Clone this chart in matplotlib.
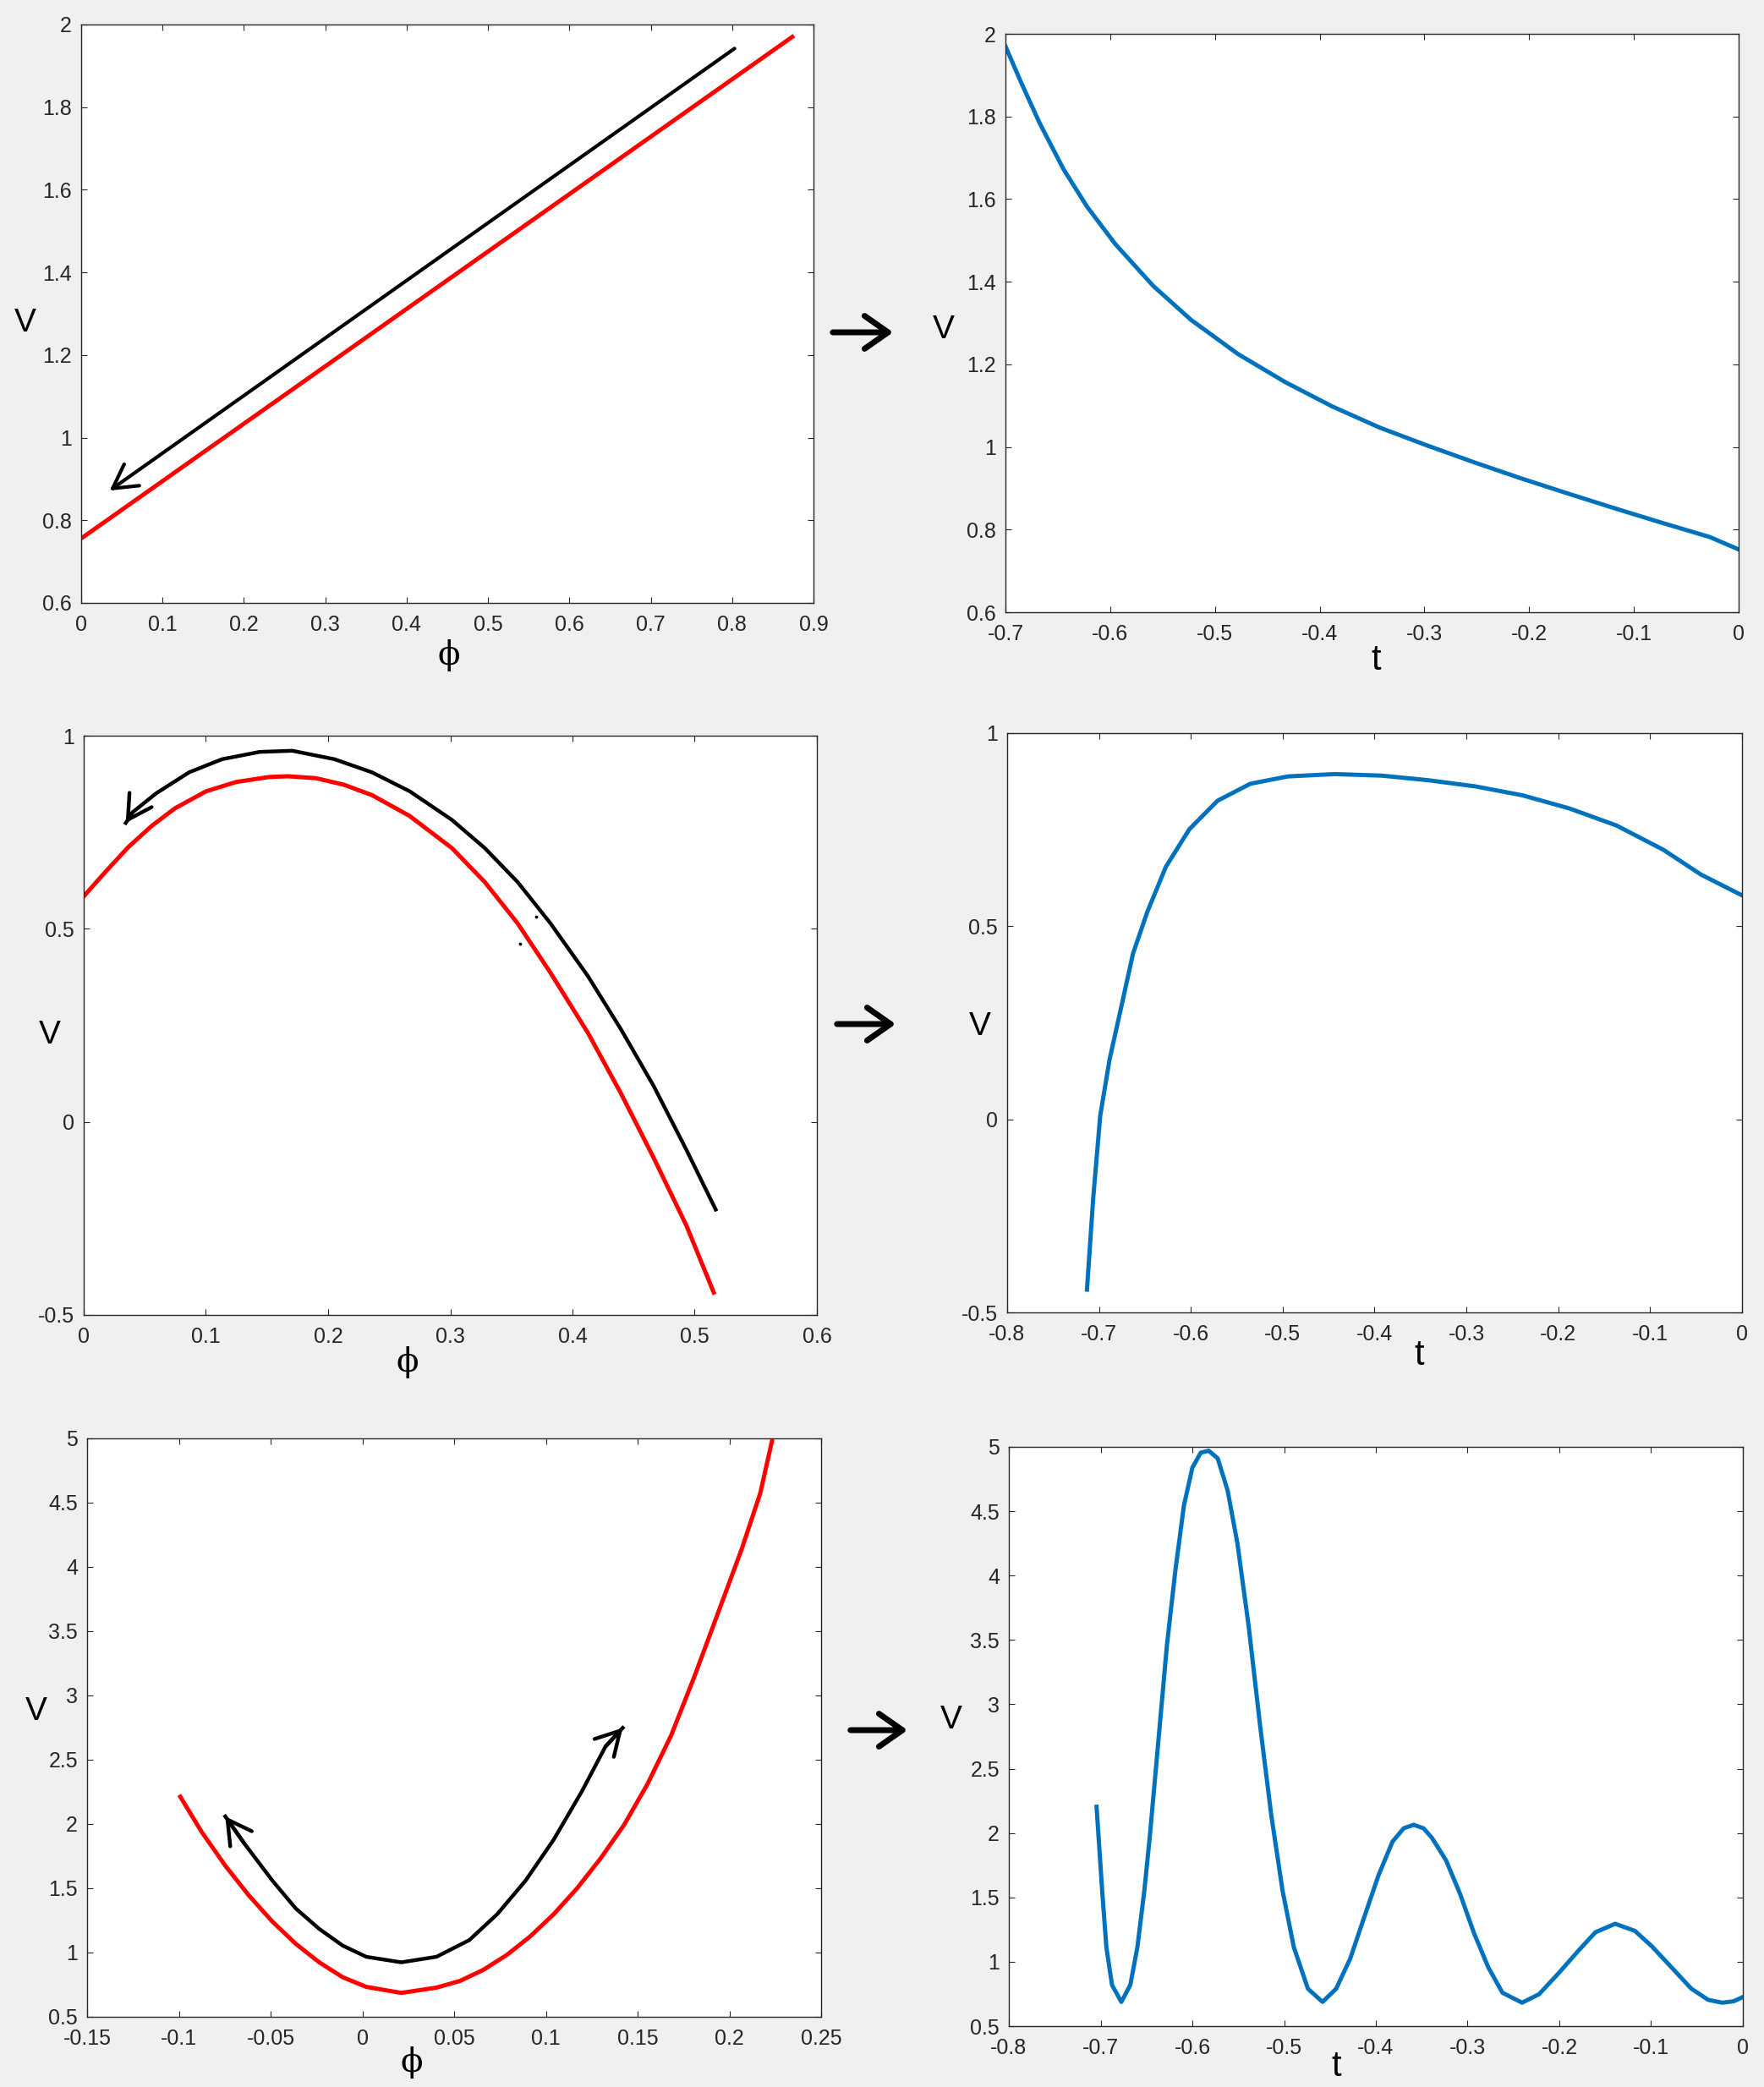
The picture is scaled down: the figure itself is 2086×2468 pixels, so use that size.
import numpy as np
import matplotlib
matplotlib.use("Agg")
import matplotlib.pyplot as plt
from matplotlib.patches import FancyArrowPatch
from matplotlib.ticker import FuncFormatter

plt.rcParams["font.family"] = ["Liberation Sans", "DejaVu Sans"]

W, H = 2086, 2468
RED = "#FF0000"
BLUE = "#0072BD"

# ---- panel 1 : V(phi), linear ----
p1_phi = [0.0, 0.876]
p1_V = [0.756, 1.973]
p1_arrow_phi = [0.803, 0.035]
p1_arrow_V = [1.942, 0.872]

# ---- panel 2 : V(t) ----
p2_t = [-0.7, -0.6852, -0.6672, -0.6447, -0.6222, -0.5951, -0.559, -0.523,
        -0.478, -0.4329, -0.3879, -0.3428, -0.2978, -0.2527, -0.2077,
        -0.1626, -0.1176, -0.0726, -0.0275, 0.0]
p2_V = [1.970, 1.883, 1.783, 1.673, 1.582, 1.491, 1.390, 1.308,
        1.225, 1.157, 1.098, 1.047, 1.004, 0.963, 0.924,
        0.887, 0.851, 0.816, 0.782, 0.752]

# ---- panel 3 : V(phi), hump ----
p3_phi = [0.0, 0.0171, 0.0363, 0.0555, 0.0747, 0.1001, 0.1246, 0.1516, 0.1669,
          0.19, 0.213, 0.236, 0.2668, 0.3013, 0.3282, 0.3551, 0.382, 0.4127,
          0.4396, 0.4664, 0.4933, 0.5156]
p3_V = [0.584, 0.645, 0.711, 0.766, 0.812, 0.856, 0.880, 0.893, 0.895,
        0.890, 0.873, 0.846, 0.792, 0.709, 0.621, 0.514, 0.386, 0.230,
        0.074, -0.093, -0.269, -0.442]
p3_arrow_phi = [0.5172, 0.4933, 0.4664, 0.4396, 0.4127, 0.382, 0.3551, 0.3282,
                0.3013, 0.2668, 0.236, 0.2053, 0.1707, 0.1439, 0.1131, 0.0862,
                0.0594, 0.0401, 0.0344]
p3_arrow_V = [-0.227, -0.073, 0.093, 0.240, 0.377, 0.514, 0.621, 0.709,
              0.782, 0.856, 0.905, 0.939, 0.961, 0.958, 0.939, 0.905,
              0.851, 0.802, 0.774]
p3_dots_phi = [0.3704, 0.3574]
p3_dots_V = [0.531, 0.461]

# ---- panel 4 : V(t) ----
p4_t = [-0.7131, -0.7064, -0.6987, -0.6885, -0.6757, -0.663, -0.6476, -0.6272,
        -0.6017, -0.571, -0.5352, -0.4944, -0.4433, -0.3922, -0.3412, -0.29,
        -0.239, -0.1878, -0.1368, -0.0856, -0.0448, 0.0]
p4_V = [-0.441, -0.207, 0.009, 0.155, 0.292, 0.429, 0.536, 0.654,
        0.751, 0.825, 0.869, 0.888, 0.894, 0.890, 0.878, 0.862,
        0.839, 0.805, 0.761, 0.698, 0.634, 0.580]

# ---- panel 5 : V(phi), well ----
p5_phi = [-0.0992, -0.0875, -0.0747, -0.0619, -0.0491, -0.0363, -0.0235,
          -0.0107, 0.0021, 0.0212, 0.0404, 0.0532, 0.066, 0.0788, 0.0916,
          0.1044, 0.1172, 0.1299, 0.1427, 0.1555, 0.1683, 0.1811, 0.1939,
          0.2067, 0.2168, 0.2232]
p5_V = [2.212, 1.937, 1.676, 1.445, 1.242, 1.068, 0.924,
        0.808, 0.733, 0.686, 0.727, 0.779, 0.866, 0.982, 1.127,
        1.300, 1.503, 1.734, 1.995, 2.314, 2.690, 3.153, 3.645,
        4.138, 4.572, 4.978]
p5_arrow_phi = [-0.0747, -0.0644, -0.0491, -0.0363, -0.0235, -0.0107, 0.0021,
                0.0212, 0.0404, 0.0583, 0.0736, 0.089, 0.1043, 0.1197, 0.1325,
                0.1419]
p5_arrow_V = [2.059, 1.850, 1.561, 1.343, 1.184, 1.054, 0.967,
              0.924, 0.967, 1.097, 1.300, 1.561, 1.879, 2.256, 2.603,
              2.748]

# ---- panel 6 : V(t), oscillation ----
p6_t = [-0.7044, -0.6983, -0.6937, -0.6876, -0.6774, -0.6676, -0.6599, -0.6523,
        -0.6461, -0.6369, -0.6277, -0.6184, -0.6092, -0.6, -0.5908, -0.5822,
        -0.5724, -0.5616, -0.5509, -0.5386, -0.5263, -0.514, -0.5017, -0.4894,
        -0.474, -0.4581, -0.4433, -0.4279, -0.4126, -0.3972, -0.3818, -0.3696,
        -0.3588, -0.3481, -0.3389, -0.3235, -0.3081, -0.2928, -0.2774, -0.262,
        -0.2406, -0.2221, -0.2007, -0.1791, -0.1607, -0.1392, -0.1177, -0.0992,
        -0.0777, -0.0562, -0.0378, -0.0224, -0.0101, 0.0]
p6_V = [2.204, 1.553, 1.113, 0.820, 0.688, 0.820, 1.113, 1.553,
        1.993, 2.726, 3.460, 4.046, 4.544, 4.838, 4.955, 4.970,
        4.911, 4.662, 4.251, 3.606, 2.843, 2.140, 1.553, 1.113,
        0.790, 0.688, 0.790, 1.025, 1.348, 1.670, 1.934, 2.037,
        2.064, 2.037, 1.963, 1.788, 1.525, 1.218, 0.956, 0.759,
        0.682, 0.748, 0.912, 1.087, 1.229, 1.295, 1.240, 1.120,
        0.956, 0.791, 0.704, 0.682, 0.693, 0.726]


def box(l, t, r, b):
    return [l / W, 1 - b / H, (r - l) / W, (b - t) / H]


def fmt(v, pos):
    if abs(v) < 1e-9:
        return "0"
    return "%g" % round(v, 4)


def style_ax(ax, xlim, ylim, xticks, yticks):
    ax.set_xlim(xlim)
    ax.set_ylim(ylim)
    ax.set_xticks(xticks)
    ax.set_yticks(yticks)
    ax.xaxis.set_major_formatter(FuncFormatter(fmt))
    ax.yaxis.set_major_formatter(FuncFormatter(fmt))
    ax.tick_params(direction="in", top=True, right=True, length=5, width=0.8,
                   labelsize=18, labelcolor="#262626", color="#262626")
    ax.tick_params(axis="x", pad=10)
    ax.tick_params(axis="y", pad=8)
    for s in ax.spines.values():
        s.set_linewidth(1.0)
        s.set_color("#262626")
    ax.set_facecolor("white")


def labels(ax, xl, xpos, ypos):
    if xl == "t":
        ax.text(xpos[0], xpos[1], "t", transform=ax.transAxes, fontsize=30,
                ha="center", va="center")
    else:
        ax.text(xpos[0], xpos[1], "\u03d5", transform=ax.transAxes, fontsize=28,
                ha="center", va="center", family="DejaVu Serif")
    ax.text(ypos[0], ypos[1], "V", transform=ax.transAxes, fontsize=28,
            ha="center", va="center")


ARROW = "->,head_length=0.5,head_width=0.28"


def head(ax, xs, ys):
    # open arrow head at the last point of a hand-drawn path
    ax.annotate("", xy=(xs[-1], ys[-1]), xytext=(xs[-2], ys[-2]),
                arrowprops=dict(arrowstyle=ARROW, lw=3.2, color="black",
                                mutation_scale=40, shrinkA=0, shrinkB=0))


fig = plt.figure(figsize=(W / 100, H / 100), dpi=100, facecolor="#f0f0f0")

ax1 = fig.add_axes(box(96, 29, 962, 713))
ax2 = fig.add_axes(box(1189, 40, 2056, 724))
ax3 = fig.add_axes(box(99, 870, 966, 1555))
ax4 = fig.add_axes(box(1191, 867, 2060, 1552))
ax5 = fig.add_axes(box(103, 1701, 971, 2385))
ax6 = fig.add_axes(box(1193, 1711, 2061, 2396))

# panel 1
style_ax(ax1, (0, 0.9), (0.6, 2), np.arange(0, 0.91, 0.1), np.arange(0.6, 2.01, 0.2))
ax1.plot(p1_phi, p1_V, color=RED, lw=3.6, solid_capstyle="butt")
ax1.annotate("", xy=(p1_arrow_phi[1], p1_arrow_V[1]), xytext=(p1_arrow_phi[0], p1_arrow_V[0]),
             arrowprops=dict(arrowstyle=ARROW, lw=3, color="black",
                             mutation_scale=40, shrinkA=0, shrinkB=0))
labels(ax1, "phi", (0.502, -0.091), (-0.076, 0.484))

# panel 2
style_ax(ax2, (-0.7, 0), (0.6, 2), np.arange(-0.7, 0.01, 0.1), np.arange(0.6, 2.01, 0.2))
ax2.plot(p2_t, p2_V, color=BLUE, lw=3.6)
labels(ax2, "t", (0.505, -0.083), (-0.084, 0.488))

# panel 3
style_ax(ax3, (0, 0.6), (-0.5, 1), np.arange(0, 0.61, 0.1), np.arange(-0.5, 1.01, 0.5))
ax3.plot(p3_phi, p3_V, color=RED, lw=3.6)
ax3.plot(p3_arrow_phi, p3_arrow_V, color="black", lw=3.2)
head(ax3, p3_arrow_phi, p3_arrow_V)
ax3.scatter(p3_dots_phi, p3_dots_V, s=3, color="black")
labels(ax3, "phi", (0.441, -0.082), (-0.046, 0.483))

# panel 4
style_ax(ax4, (-0.8, 0), (-0.5, 1), np.arange(-0.8, 0.01, 0.1), np.arange(-0.5, 1.01, 0.5))
ax4.plot(p4_t, p4_V, color=BLUE, lw=3.6)
labels(ax4, "t", (0.56, -0.075), (-0.037, 0.493))

# panel 5
style_ax(ax5, (-0.15, 0.25), (0.5, 5), np.arange(-0.15, 0.251, 0.05), np.arange(0.5, 5.01, 0.5))
ax5.plot(p5_phi, p5_V, color=RED, lw=3.6)
ax5.plot(p5_arrow_phi, p5_arrow_V, color="black", lw=3.2)
head(ax5, p5_arrow_phi, p5_arrow_V)
head(ax5, p5_arrow_phi[::-1], p5_arrow_V[::-1])
labels(ax5, "phi", (0.442, -0.079), (-0.069, 0.528))

# panel 6
style_ax(ax6, (-0.8, 0), (0.5, 5), np.arange(-0.8, 0.01, 0.1), np.arange(0.5, 5.01, 0.5))
ax6.plot(p6_t, p6_V, color=BLUE, lw=3.6)
labels(ax6, "t", (0.446, -0.070), (-0.079, 0.528))

# arrows between the columns
for x0, x1, y in [(982, 1059, 393), (987, 1062, 1211), (1003, 1076, 2046)]:
    fig.add_artist(FancyArrowPatch((x0 / W, 1 - y / H), (x1 / W, 1 - y / H),
                                   transform=fig.transFigure,
                                   arrowstyle="->,head_length=0.5,head_width=0.35",
                                   mutation_scale=40, lw=5, color="black"))

fig.savefig("out.png", dpi=100, facecolor=fig.get_facecolor())
